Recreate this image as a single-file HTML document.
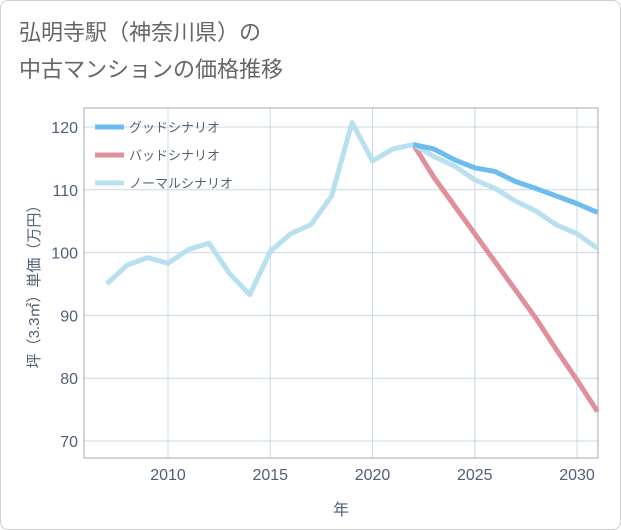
<!DOCTYPE html>
<html><head><meta charset="utf-8"><style>
html,body{margin:0;padding:0;background:#fff;}
#wrap{position:relative;width:621px;height:530px;box-sizing:border-box;border:1px solid #d0d0d0;border-radius:8px;background:#fff;overflow:hidden;font-family:"Liberation Sans","Noto Sans CJK JP",sans-serif;}
#title{position:absolute;left:18px;top:13px;font-size:22px;line-height:37px;color:#666;}
svg{position:absolute;left:0;top:0;}
</style></head><body>
<div id="wrap">
<div id="title">弘明寺駅（神奈川県）の<br>中古マンションの価格推移</div>
<svg id="chart" width="621" height="530"></svg>
</div>
<script>
const years=[2007,2008,2009,2010,2011,2012,2013,2014,2015,2016,2017,2018,2019,2020,2021,2022,2023,2024,2025,2026,2027,2028,2029,2030,2031];
const normal=[95,98,99.2,98.3,100.5,101.5,96.7,93.3,100.2,103,104.5,109,120.7,114.6,116.5,117.2,115.3,113.8,111.6,110.2,108.2,106.6,104.4,103,100.7];
const goodYears=[2022,2023,2024,2025,2026,2027,2028,2029,2030,2031];
const good=[117.2,116.5,114.8,113.5,112.9,111.3,110.2,109,107.8,106.4];
const bad=[117.2,112,107.5,103,98.5,94,89.5,84.5,79.7,74.7];
const xTicks=[2010,2015,2020,2025,2030];
const yTicks=[70,80,90,100,110,120];
const NS="http://www.w3.org/2000/svg";
const svg=document.getElementById('chart');
const L=83,R=597,T=107,B=457;
const TC='#4f5f78';
const x=v=>167+(v-2010)*(576-167)/20;
const y=v=>440-(v-70)*(440-126)/50;
function mk(t,a){const e=document.createElementNS(NS,t);for(const k in a)e.setAttribute(k,a[k]);svg.appendChild(e);return e;}
xTicks.forEach(v=>{
 let g=mk('line',{x1:x(v),x2:x(v),y1:T,y2:B,stroke:'#c8d8e8','stroke-width':1});
 
 
 let t=mk('text',{x:x(v),y:479,'text-anchor':'middle','font-size':16,fill:TC});t.textContent=v;
 
 
});
yTicks.forEach(v=>{
 let g=mk('line',{x1:L,x2:R,y1:y(v),y2:y(v),stroke:'#c8d8e8','stroke-width':1});
 
 
 let t=mk('text',{x:77,y:y(v)+6,'text-anchor':'end','font-size':16,fill:TC});t.textContent=v;
 
 
});
let e=mk('rect',{x:L,y:T,width:R-L,height:B-T,fill:'none',stroke:'#aaa','stroke-width':1});


function line(xs,ys,c,name){const d=xs.map((v,i)=>(i?'L':'M')+x(v)+','+y(ys[i])).join(' ');
 const p=mk('path',{d:d,fill:'none',stroke:c,'stroke-width':5,'stroke-linejoin':'round'});
 
 }
line(goodYears,bad,'#e0909a','bad-scenario-line');
line(years,normal,'#b8e0ef','normal-scenario-line');
line(goodYears,good,'#6cbcf0','good-scenario-line');
const leg=[['グッドシナリオ','#6cbcf0'],['バッドシナリオ','#e0909a'],['ノーマルシナリオ','#b8e0ef']];
leg.forEach((l,i)=>{const yy=126+i*28;
 let s=mk('line',{x1:94,x2:123,y1:yy,y2:yy,stroke:l[1],'stroke-width':5});
 
 
 let t=mk('text',{x:128,y:yy+5,'font-size':13,fill:'#5a6070'});t.textContent=l[0];
 
 
});
let xt=mk('text',{x:340,y:514,'text-anchor':'middle','font-size':16,fill:TC});xt.textContent='年';


let yt=mk('text',{x:0,y:0,'text-anchor':'middle','font-size':15,fill:TC,transform:'translate(38,282) rotate(-90)'});yt.textContent='坪（3.3㎡）単価（万円）';


</script>
</body></html>
